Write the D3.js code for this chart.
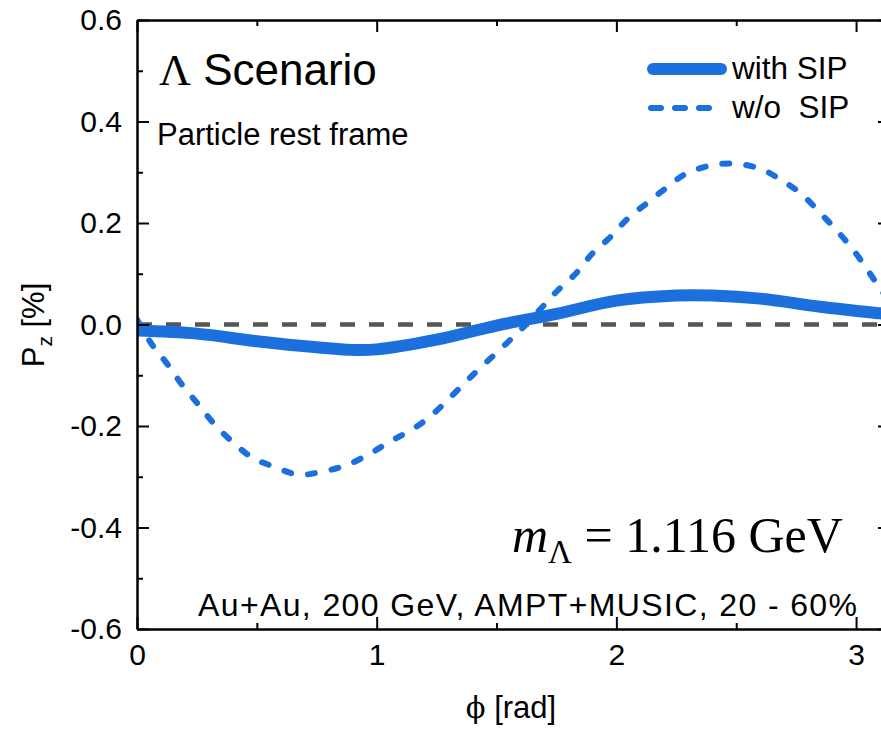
<!DOCTYPE html>
<html>
<head>
<meta charset="utf-8">
<script src="https://cdn.jsdelivr.net/npm/d3@7"></script>
<style>
  body { margin: 0; background: #fff; }
  text { fill: #000; }
</style>
</head>
<body>
<svg id="chart" width="881" height="739" font-family="Liberation Sans, Arial, sans-serif"></svg>
<script>
// data
const phiWith = [0, 0.25, 0.5, 0.75, 0.9, 1.0, 1.25, 1.5, 1.75, 2.0, 2.25, 2.4, 2.6, 2.85, 3.1, Math.PI]
const withSIP = [-0.012, -0.018, -0.033, -0.045, -0.05, -0.049, -0.03, -0.002, 0.021, 0.047, 0.057, 0.057, 0.051, 0.035, 0.022, 0.02]

const phiWo = [0, 0.063, 0.125, 0.19, 0.26, 0.32, 0.40, 0.48, 0.57, 0.675, 0.77, 0.87, 0.97, 1.04, 1.2, 1.4, 1.61,
  1.69, 1.755, 1.83, 1.90, 1.97, 2.05, 2.13, 2.21, 2.29, 2.39, 2.49, 2.60, 2.69, 2.77, 2.85, 2.92, 2.99, 3.05, 3.10, Math.PI]
const woSIP = [0.01, -0.04, -0.077, -0.12, -0.16, -0.195, -0.232, -0.262, -0.28, -0.296, -0.29, -0.278, -0.255, -0.235, -0.19, -0.1, -0.006,
  0.034, 0.067, 0.10, 0.14, 0.17, 0.21, 0.24, 0.27, 0.297, 0.313, 0.317, 0.307, 0.284, 0.258, 0.22, 0.185, 0.146, 0.106, 0.071, 0.045]

const yTicks = [-0.6, -0.4, -0.2, 0.0, 0.2, 0.4, 0.6]
const yMinor = [-0.5, -0.3, -0.1, 0.1, 0.3, 0.5]
const xTicks = [0, 1, 2, 3]
const xMinor = [0.5, 1.5, 2.5]
const legendLabels = ["with SIP", "w/o  SIP"]

const blue = "#1b70dd"

const svg = d3.select("#chart")
const mLeft = 137, mRight = 890, mTop = 20, mBottom = 629

const x = d3.scaleLinear().domain([0, Math.PI]).range([mLeft, mRight])
const y = d3.scaleLinear().domain([-0.6, 0.6]).range([mBottom, mTop])

svg.append("defs").append("clipPath").attr("id", "plot")
  .append("rect").attr("x", mLeft).attr("y", mTop).attr("width", mRight - mLeft).attr("height", mBottom - mTop)

// zero reference line
svg.append("line")
  .attr("x1", mLeft).attr("x2", mRight)
  .attr("y1", y(0)).attr("y2", y(0))
  .attr("stroke", "#555").attr("stroke-width", 4.5)
  .attr("stroke-dasharray", "15,14")

const line = d3.line().curve(d3.curveCatmullRom.alpha(0.5))
  .x(d => x(d[0])).y(d => y(d[1]))

const plot = svg.append("g").attr("clip-path", "url(#plot)")

plot.append("path")
  .datum(d3.zip(phiWo, woSIP))
  .attr("d", line)
  .attr("fill", "none").attr("stroke", blue)
  .attr("stroke-width", 6).attr("stroke-linecap", "round")
  .attr("stroke-dasharray", "7,17")

plot.append("path")
  .datum(d3.zip(phiWith, withSIP))
  .attr("d", line)
  .attr("fill", "none").attr("stroke", blue)
  .attr("stroke-width", 12)

// axes, ticks pointing inward
function styleAxis(g) {
  g.selectAll(".domain").attr("stroke", "#000").attr("stroke-width", 2)
  g.selectAll(".tick line").attr("stroke", "#000").attr("stroke-width", 2)
  g.selectAll("text").attr("font-size", 30).attr("fill", "#000")
    .attr("font-family", "Liberation Sans, Arial, sans-serif")
}
const fmtY = d => d3.format(".1f")(d).replace("−", "-")

svg.append("g").attr("transform", `translate(${mLeft},0)`)
  .call(d3.axisLeft(y).tickValues(yTicks).tickFormat(fmtY).tickSizeInner(-12).tickSizeOuter(0).tickPadding(15))
  .call(styleAxis)
svg.append("g").attr("transform", `translate(${mLeft},0)`)
  .call(d3.axisLeft(y).tickValues(yMinor).tickFormat("").tickSizeInner(-6).tickSizeOuter(0))
  .call(styleAxis)
svg.append("g").attr("transform", `translate(${mRight},0)`)
  .call(d3.axisRight(y).tickValues(yTicks).tickFormat("").tickSizeInner(-12).tickSizeOuter(0))
  .call(styleAxis)
svg.append("g").attr("transform", `translate(${mRight},0)`)
  .call(d3.axisRight(y).tickValues(yMinor).tickFormat("").tickSizeInner(-6).tickSizeOuter(0))
  .call(styleAxis)

svg.append("g").attr("transform", `translate(0,${mBottom})`)
  .call(d3.axisBottom(x).tickValues(xTicks).tickFormat(d3.format("d")).tickSizeInner(-12).tickSizeOuter(0).tickPadding(15))
  .call(styleAxis)
svg.append("g").attr("transform", `translate(0,${mBottom})`)
  .call(d3.axisBottom(x).tickValues(xMinor).tickFormat("").tickSizeInner(-6).tickSizeOuter(0))
  .call(styleAxis)
svg.append("g").attr("transform", `translate(0,${mTop})`)
  .call(d3.axisTop(x).tickValues(xTicks).tickFormat("").tickSizeInner(-12).tickSizeOuter(0))
  .call(styleAxis)
svg.append("g").attr("transform", `translate(0,${mTop})`)
  .call(d3.axisTop(x).tickValues(xMinor).tickFormat("").tickSizeInner(-6).tickSizeOuter(0))
  .call(styleAxis)

// axis titles
const yl = svg.append("text")
  .attr("transform", `translate(44,325) rotate(-90)`)
  .attr("text-anchor", "middle").attr("font-size", 31)
yl.append("tspan").text("P")
yl.append("tspan").text("z").attr("font-size", 21).attr("dy", 8)
yl.append("tspan").text(" [%]").attr("dy", -8)

const xl = svg.append("text")
  .attr("x", 511).attr("y", 718)
  .attr("text-anchor", "middle").attr("font-size", 31)
xl.append("tspan").text("ϕ").attr("font-family", "DejaVu Serif, serif").attr("font-size", 29)
xl.append("tspan").text(" [rad]")

// annotations
const title = svg.append("text").attr("x", 159).attr("y", 85).attr("font-size", 44)
title.append("tspan").text("Λ").attr("font-family", "Liberation Serif, serif")
title.append("tspan").text(" Scenario")

svg.append("text").attr("x", 157).attr("y", 145).attr("font-size", 31)
  .text("Particle rest frame")

svg.append("text").attr("x", 198).attr("y", 616).attr("font-size", 32)
  .attr("textLength", 659).attr("lengthAdjust", "spacing")
  .style("white-space", "pre")
  .text("Au+Au, 200 GeV, AMPT+MUSIC, 20 - 60%")

const mass = svg.append("text").attr("x", 512).attr("y", 552)
  .attr("font-family", "Liberation Serif, Times New Roman, serif").attr("font-size", 50)
mass.append("tspan").text("m").attr("font-style", "italic")
mass.append("tspan").text("Λ").attr("font-size", 33).attr("dy", 11)
mass.append("tspan").text(" = 1.116 GeV").attr("dy", -11)

// legend
const leg = svg.append("g")
leg.append("line").attr("x1", 653).attr("x2", 721).attr("y1", 69).attr("y2", 69)
  .attr("stroke", blue).attr("stroke-width", 12).attr("stroke-linecap", "round")
leg.append("line").attr("x1", 651).attr("x2", 714).attr("y1", 108).attr("y2", 108)
  .attr("stroke", blue).attr("stroke-width", 6).attr("stroke-linecap", "round")
  .attr("stroke-dasharray", "10,14")
leg.selectAll("text.lab").data(legendLabels).join("text")
  .attr("class", "lab")
  .attr("x", 732).attr("y", (d, i) => 79 + i * 39)
  .attr("font-size", 31.5)
  .style("white-space", "pre")
  .text(d => d)
</script>
</body>
</html>
